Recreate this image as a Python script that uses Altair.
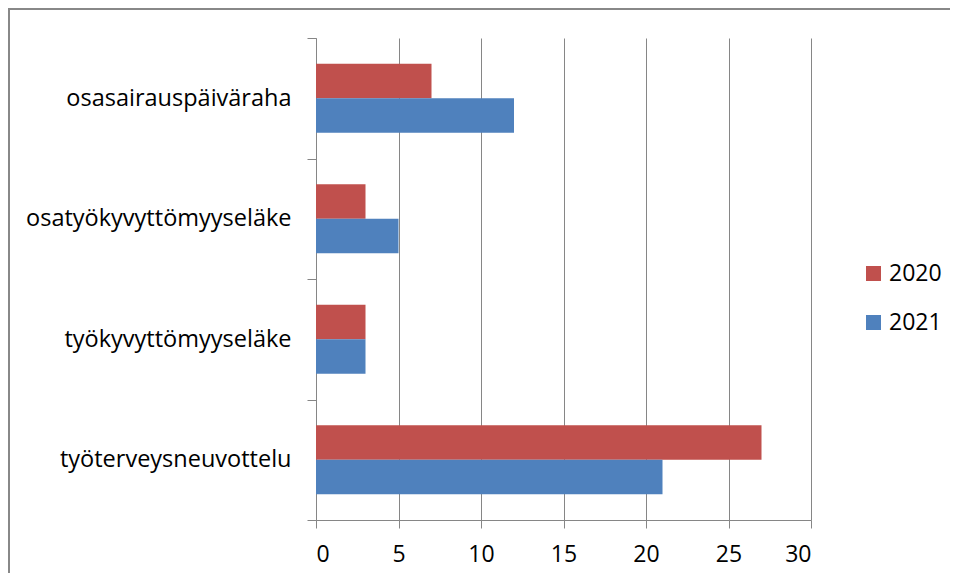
import altair as alt
import pandas as pd

categories = ["osasairauspäiväraha", "osatyökyvyttömyyseläke", "työkyvyttömyyseläke", "työterveysneuvottelu"]
years = ["2020", "2021"]
values_2020 = [7, 3, 3, 27]
values_2021 = [12, 5, 3, 21]
x_ticks = [0, 5, 10, 15, 20, 25, 30]

rows = []
for c, v in zip(categories, values_2020):
    rows.append({"kategoria": c, "vuosi": "2020", "arvo": v})
for c, v in zip(categories, values_2021):
    rows.append({"kategoria": c, "vuosi": "2021", "arvo": v})
df = pd.DataFrame(rows)

FONT = "Open Sans"
FS = 23
GRID = "#868686"

bars = alt.Chart(df).mark_bar(stroke=None).encode(
    x=alt.X("arvo:Q",
            scale=alt.Scale(domain=[0, 30], nice=False),
            axis=alt.Axis(values=x_ticks, title=None, grid=True, gridColor=GRID,
                          gridWidth=1, domainColor=GRID, tickColor=GRID, tickSize=8,
                          labelFontSize=FS, labelFont=FONT, labelColor="#000000",
                          labelPadding=15)),
    y=alt.Y("kategoria:N", sort=categories,
            scale=alt.Scale(paddingInner=0, paddingOuter=0),
            axis=alt.Axis(title=None, tickBand="extent", domainColor=GRID, tickColor=GRID,
                          tickSize=9, labelFontSize=23.5, labelFont=FONT, labelColor="#000000",
                          labelPadding=16, labelLimit=0)),
    yOffset=alt.YOffset("vuosi:N", sort=years,
                        scale=alt.Scale(paddingOuter=0.745, paddingInner=0)),
    color=alt.Color("vuosi:N", sort=years,
                    scale=alt.Scale(domain=years, range=["#C0504D", "#4F81BD"]),
                    legend=alt.Legend(title=None, orient="none", legendX=546, legendY=224,
                                      symbolType="square", symbolSize=225,
                                      symbolStrokeWidth=0, labelFontSize=FS,
                                      labelFont=FONT, labelColor="#000000",
                                      labelOffset=4, rowPadding=25)),
)

border_df = pd.DataFrame({"k": [0]})
left_border = alt.Chart(border_df).mark_rule(color="#888888", strokeWidth=2).encode(
    x=alt.value(-307), y=alt.value(-29), y2=alt.value(560))
top_border = alt.Chart(border_df).mark_rule(color="#888888", strokeWidth=2).encode(
    x=alt.value(-308), x2=alt.value(660), y=alt.value(-29))

chart = alt.layer(bars, left_border, top_border).properties(
    width=495, height=482,
    autosize=alt.AutoSizeParams(type="none"),
    padding={"left": 308, "top": 30, "right": 139, "bottom": 53},
    background="white",
).configure_view(stroke=None)

chart.save("out.html", embed_options={"renderer": "svg", "actions": False})
